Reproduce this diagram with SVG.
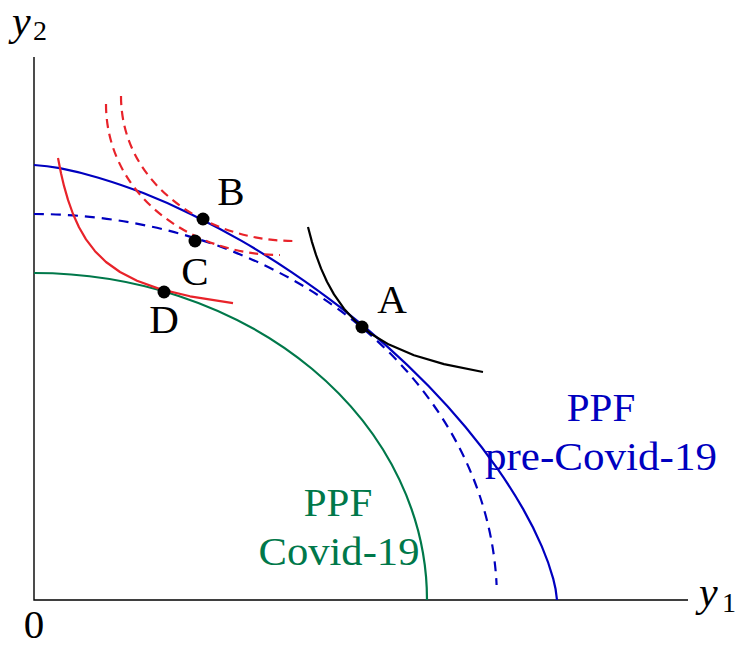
<svg xmlns="http://www.w3.org/2000/svg" width="739" height="645" viewBox="0 0 739 645">
<style>
.ax{stroke:#000;stroke-width:1.4;fill:none}
.c{fill:none;stroke-width:2.2;stroke-linecap:butt;stroke-linejoin:round}
.blue{stroke:#0000bf}
.green{stroke:#00784a}
.red{stroke:#e8232a}
.blk{stroke:#000}
.dash{stroke-dasharray:10 7}
.rdash{stroke-dasharray:9 6}
.t{font-family:"Liberation Serif","Times New Roman",serif;font-size:41px}
.ti{font-family:"Liberation Serif","Times New Roman",serif;font-size:42px;font-style:italic}
.sub{font-family:"Liberation Serif","Times New Roman",serif;font-size:28px}
.dot{fill:#000}
</style>
<rect width="739" height="645" fill="#fff"/>
<g id="axes">
<path class="ax" d="M34,57 V600 H688"/>
<text class="ti" x="12" y="35">y</text><text class="sub" x="33" y="40">2</text>
<text class="ti" x="699" y="606">y</text><text class="sub" x="722" y="612">1</text>
<text class="t" x="34" y="638" text-anchor="middle">0</text>
</g>
<g id="connectors">
<path id="ppf-pre" class="c blue" d="M34,165 C42.6,165.5 49,166.1 59.7,168.2 C70.4,170.3 84.5,173.6 98.4,177.7 C112.3,181.9 127.8,187 143.3,193.1 C158.8,199.2 175.2,206.4 191.6,214.4 C208,222.4 225,231.3 241.6,240.9 C258.3,250.5 275.1,261.1 291.5,272.1 C307.9,283.2 324.4,295 340.1,307.2 C355.9,319.4 371.3,332.3 386,345.4 C400.7,358.5 415,372.2 428.3,385.8 C441.6,399.5 454.2,413.5 465.7,427.3 C477.3,441.2 488,455.3 497.6,468.9 C507.2,482.5 515.8,496.2 523.2,509.1 C530.6,522 536.8,534.8 541.8,546.4 C546.8,558 550.7,569.7 553.2,578.6 C555.7,587.5 556.4,592.9 557,600"/>
<path id="ppf-dashed" class="c blue dash" d="M34,214 A463,386 0 0 1 496.6,585"/>
<path id="ppf-covid" class="c green" d="M34,273 A393,327 0 0 1 427,600"/>
<path id="ic-A" class="c blk" d="M308,227 L312,242.1 L316,254.9 L321,268.4 L327,281.8 L334,294.4 L344,308.7 L356,321.7 L370,333.2 L389,344.6 L414,355.3 L444,364.1 L483,372"/>
<path id="ic-D" class="c red" d="M58,158 L61,173.2 L64,185.9 L68,199.9 L73,214 L79,227.3 L86,239.4 L95,251.2 L106,262 L120,272 L137,280.8 L160,289.1 L190,296.3 L233,303.1"/>
<path id="ic-B" class="c red rdash" d="M121,96 C121,184 206,241 294,241"/>
<path id="ic-C" class="c red rdash" d="M106,104 C106,194 190,255 280,255"/>
</g>
<g id="point-A"><circle class="dot" cx="362" cy="327" r="6.5"/><text class="t" x="392" y="313" text-anchor="middle">A</text></g>
<g id="point-B"><circle class="dot" cx="203" cy="219" r="6.5"/><text class="t" x="231" y="205" text-anchor="middle">B</text></g>
<g id="point-C"><circle class="dot" cx="195" cy="241" r="6.5"/><text class="t" x="195" y="285" text-anchor="middle">C</text></g>
<g id="point-D"><circle class="dot" cx="164" cy="292" r="6.5"/><text class="t" x="164" y="333" text-anchor="middle">D</text></g>
<g id="label-pre" fill="#0000bf"><text class="t" x="601" y="421" text-anchor="middle" font-size="42">PPF</text><text class="t" x="601" y="470" text-anchor="middle" font-size="42" textLength="232" lengthAdjust="spacingAndGlyphs">pre-Covid-19</text></g>
<g id="label-covid" fill="#00784a"><text class="t" x="338" y="516" text-anchor="middle" font-size="42">PPF</text><text class="t" x="339" y="565" text-anchor="middle" font-size="42" textLength="161" lengthAdjust="spacingAndGlyphs">Covid-19</text></g>
</svg>
